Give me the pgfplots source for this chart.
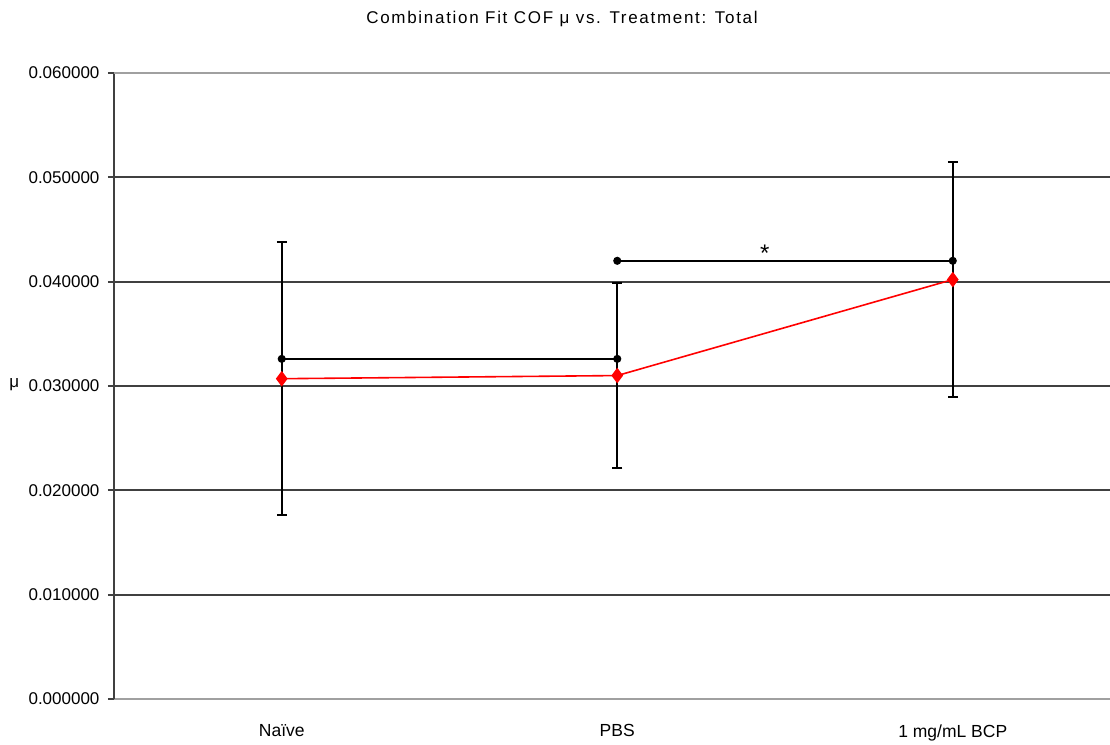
\documentclass[border=0pt]{standalone}
\usepackage{fontspec}
\setmainfont{Liberation Sans}
\usepackage{pgfplots}
\pgfplotsset{compat=1.18}
\definecolor{gridc}{HTML}{404040}
\definecolor{lightc}{HTML}{A0A0A0}
\begin{document}
\begin{tikzpicture}
\begin{axis}[
  at={(0,0)}, anchor=south west,
  scale only axis, width=996pt, height=626pt,
  xmin=-0.5, xmax=2.4687, ymin=0, ymax=0.06,
  axis x line=bottom, axis y line=left,
  axis line style={-},
  x axis line style={draw=lightc, line width=2pt},
  y axis line style={draw=gridc, line width=2pt},
  xtick={0,1,2},
  xticklabels={Naïve, PBS, 1 mg/mL BCP},
  xtick style={draw=none},
  xticklabel style={yshift=-16pt, font=\fontsize{17.5}{20}\selectfont},
  ytick={0,0.01,0.02,0.03,0.04,0.05},
  extra y ticks={0.06},
  extra y tick style={grid style={draw=lightc, line width=2pt}},
  ymajorgrids,
  grid style={draw=gridc, line width=2.2pt},
  ytick style={draw=gridc, line width=2pt},
  tick align=outside, major tick length=6pt,
  scaled y ticks=false,
  /pgf/number format/assume math mode=true,
  yticklabel style={xshift=-5pt, font=\fontsize{17}{20}\selectfont,
    /pgf/number format/fixed, /pgf/number format/fixed zerofill, /pgf/number format/precision=6},
  ylabel={μ},
  ylabel style={at={(axis description cs:-0.1,0.5016)}, rotate=-90, anchor=center, font=\fontsize{17}{20}\selectfont},
  title={Combination Fit COF μ vs. Treatment: Total},
  title style={at={(axis description cs:0.4498,1.077)}, anchor=center, font=\fontsize{17}{20}\selectfont\addfontfeatures{LetterSpace=10}},
  clip=false,
]
% error bars
\addplot[draw=none, mark=none,
  error bars/.cd, y dir=both, y explicit,
  error bar style={line width=2pt, black},
  error mark options={rotate=90, mark size=5pt, line width=2pt, black}]
  coordinates {
    (0,0.0307) +- (0,0.0131)
    (1,0.0310) +- (0,0.0089)
    (2,0.0402) +- (0,0.0113)
  };
% significance brackets
\addplot[black, line width=2pt, mark=*, mark size=3pt] coordinates {(0,0.0326) (1,0.0326)};
\addplot[black, line width=2pt, mark=*, mark size=3pt] coordinates {(1,0.0420) (2,0.0420)};
\node[font=\fontsize{24}{26}\selectfont] at (axis cs:1.44,0.0427) {*};
% means
\addplot[red, line width=1.6pt, mark=diamond*, mark size=6.5pt, mark options={fill=red, draw=red}]
  coordinates {(0,0.0307) (1,0.0310) (2,0.0402)};
\end{axis}
\pgfresetboundingbox
\path[use as bounding box] (-114pt,-45pt) rectangle (996pt,699pt);
\end{tikzpicture}
\end{document}
